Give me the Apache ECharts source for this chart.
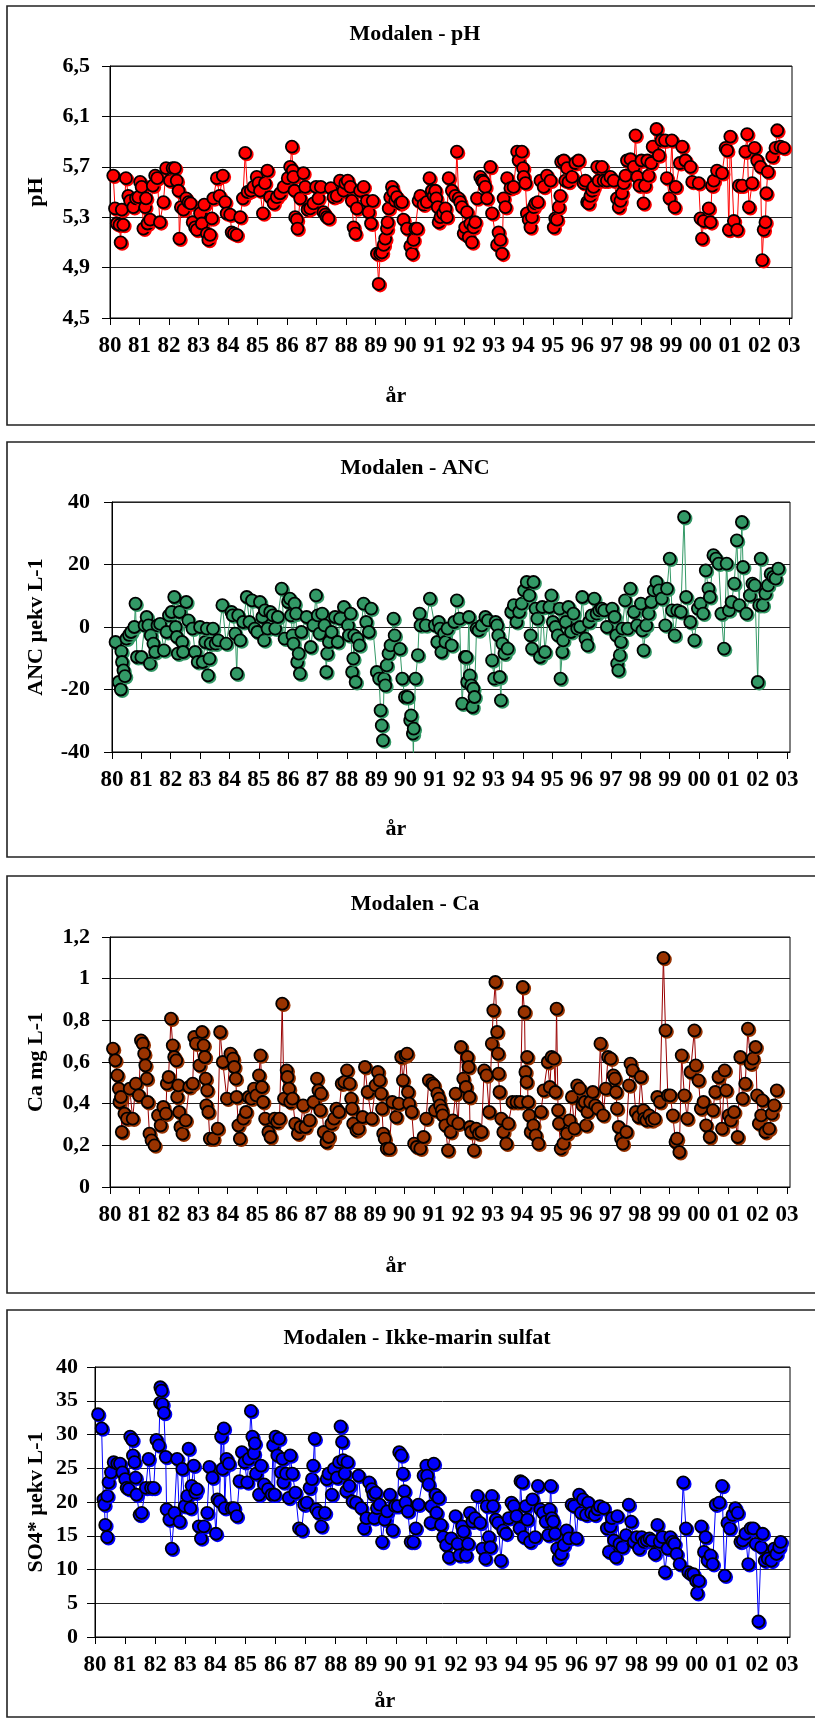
<!DOCTYPE html>
<html><head><meta charset="utf-8">
<script src="https://cdn.jsdelivr.net/npm/echarts@6/dist/echarts.min.js"></script>
<style>html,body{margin:0;padding:0;background:#fff}#c{width:815px;height:1720px}</style>
</head><body><div id="c"></div>
<script>
const yearTicks = [1980,1981,1982,1983,1984,1985,1986,1987,1988,1989,1990,1991,1992,1993,1994,1995,1996,1997,1998,1999,2000,2001,2002,2003];
const yearLabels = ['80','81','82','83','84','85','86','87','88','89','90','91','92','93','94','95','96','97','98','99','00','01','02','03'];
const titles = ['Modalen - pH','Modalen - ANC','Modalen - Ca','Modalen - Ikke-marin sulfat'];
const yNames = ['pH','ANC µekv L-1','Ca mg L-1','SO4* µekv L-1'];
const xName = 'år';

const phSamples = [
[1980.11,5.63],[1980.17,5.37],[1980.23,5.25],[1980.32,5.24],[1980.36,5.10],[1980.40,5.36],[1980.45,5.24],[1980.54,5.61],[1980.62,5.47],[1980.68,5.43],[1980.79,5.38],[1980.88,5.45],[1980.96,5.46],
[1981.02,5.58],[1981.07,5.54],[1981.13,5.21],[1981.19,5.38],[1981.22,5.45],[1981.27,5.25],[1981.36,5.28],[1981.45,5.55],[1981.53,5.63],[1981.60,5.61],[1981.69,5.26],[1981.81,5.42],[1981.90,5.69],
[1982.03,5.59],[1982.12,5.69],[1982.20,5.69],[1982.26,5.59],[1982.32,5.51],[1982.35,5.13],[1982.40,5.38],[1982.49,5.36],[1982.58,5.45],[1982.66,5.42],[1982.73,5.41],[1982.80,5.26],[1982.88,5.22],[1982.94,5.20],
[1983.05,5.33],[1983.11,5.25],[1983.19,5.40],[1983.28,5.17],[1983.33,5.12],[1983.39,5.16],[1983.45,5.29],[1983.50,5.45],[1983.62,5.61],[1983.71,5.47],[1983.82,5.63],[1983.90,5.42],[1983.95,5.33],
[1984.07,5.32],[1984.12,5.18],[1984.20,5.17],[1984.29,5.16],[1984.41,5.30],[1984.50,5.45],[1984.58,5.81],[1984.66,5.50],[1984.77,5.51],[1984.86,5.54],[1984.97,5.62],
[1985.03,5.57],[1985.08,5.51],[1985.18,5.33],[1985.25,5.57],[1985.33,5.67],[1985.42,5.46],[1985.54,5.41],[1985.65,5.46],[1985.76,5.49],[1985.88,5.54],
[1986.02,5.61],[1986.10,5.70],[1986.16,5.86],[1986.19,5.67],[1986.21,5.62],[1986.25,5.51],[1986.27,5.30],[1986.33,5.28],[1986.35,5.21],[1986.44,5.45],[1986.55,5.65],[1986.61,5.54],[1986.69,5.36],[1986.78,5.37],[1986.89,5.41],[1986.98,5.54],
[1987.06,5.45],[1987.14,5.54],[1987.23,5.34],[1987.29,5.32],[1987.34,5.30],[1987.40,5.29],[1987.48,5.53],[1987.57,5.46],[1987.68,5.47],[1987.79,5.59],[1987.91,5.51],[1987.97,5.57],
[1988.05,5.59],[1988.14,5.54],[1988.19,5.43],[1988.25,5.22],[1988.31,5.17],[1988.36,5.37],[1988.47,5.51],[1988.59,5.54],[1988.70,5.43],[1988.76,5.34],[1988.84,5.25],[1988.90,5.43],
[1989.04,5.01],[1989.10,4.77],[1989.15,5.01],[1989.21,5.02],[1989.27,5.08],[1989.32,5.13],[1989.38,5.21],[1989.40,5.26],[1989.44,5.37],[1989.49,5.46],[1989.55,5.54],[1989.60,5.50],[1989.66,5.43],[1989.72,5.46],[1989.83,5.41],[1989.89,5.42],[1989.94,5.28],
[1990.06,5.21],[1990.17,5.07],[1990.23,5.01],[1990.28,5.12],[1990.34,5.21],[1990.40,5.21],[1990.45,5.43],[1990.51,5.47],[1990.62,5.40],[1990.73,5.42],[1990.82,5.61],[1990.90,5.51],[1990.96,5.47],
[1991.02,5.51],[1991.05,5.45],[1991.10,5.38],[1991.13,5.26],[1991.19,5.30],[1991.28,5.33],[1991.36,5.37],[1991.41,5.30],[1991.47,5.61],[1991.58,5.51],[1991.69,5.47],[1991.75,5.82],[1991.81,5.45],[1991.86,5.42],[1991.92,5.38],[1991.98,5.17],
[1992.03,5.22],[1992.09,5.34],[1992.15,5.14],[1992.20,5.25],[1992.26,5.10],[1992.31,5.22],[1992.37,5.26],[1992.43,5.45],[1992.54,5.62],[1992.60,5.59],[1992.65,5.58],[1992.71,5.54],[1992.77,5.45],[1992.88,5.70],[1992.94,5.33],
[1993.11,5.08],[1993.16,5.18],[1993.22,5.12],[1993.28,5.01],[1993.33,5.45],[1993.39,5.38],[1993.45,5.61],[1993.56,5.53],[1993.67,5.54],[1993.79,5.82],[1993.84,5.75],[1993.95,5.82],[1993.99,5.69],
[1994.01,5.62],[1994.07,5.57],[1994.12,5.33],[1994.18,5.28],[1994.24,5.22],[1994.29,5.30],[1994.35,5.38],[1994.41,5.41],[1994.49,5.42],[1994.58,5.59],[1994.69,5.54],[1994.80,5.63],[1994.92,5.59],
[1995.03,5.22],[1995.08,5.29],[1995.14,5.28],[1995.20,5.38],[1995.25,5.47],[1995.28,5.74],[1995.37,5.75],[1995.42,5.59],[1995.48,5.69],[1995.53,5.58],[1995.65,5.62],[1995.76,5.73],[1995.87,5.75],
[1996.04,5.57],[1996.10,5.59],[1996.16,5.42],[1996.21,5.41],[1996.27,5.47],[1996.33,5.51],[1996.38,5.54],[1996.50,5.70],[1996.55,5.59],[1996.66,5.70],[1996.72,5.59],[1996.83,5.59],[1996.95,5.62],
[1997.06,5.59],[1997.17,5.45],[1997.23,5.38],[1997.29,5.43],[1997.34,5.49],[1997.40,5.57],[1997.46,5.63],[1997.51,5.75],[1997.63,5.76],[1997.74,5.70],[1997.80,5.95],[1997.86,5.62],[1997.93,5.55],
[1998.00,5.75],[1998.07,5.41],[1998.12,5.55],[1998.20,5.75],[1998.24,5.63],[1998.33,5.73],[1998.38,5.86],[1998.51,6.00],[1998.59,5.79],[1998.68,5.91],[1998.80,5.91],[1998.86,5.61],[1998.95,5.45],
[1999.03,5.91],[1999.12,5.38],[1999.16,5.54],[1999.30,5.73],[1999.38,5.86],[1999.49,5.75],[1999.66,5.70],[1999.72,5.58],[1999.94,5.57],
[2000.00,5.29],[2000.05,5.13],[2000.11,5.27],[2000.28,5.37],[2000.34,5.26],[2000.39,5.55],[2000.45,5.59],[2000.56,5.67],[2000.73,5.65],[2000.85,5.85],[2000.90,5.83],[2000.96,5.20],
[2001.01,5.94],[2001.13,5.27],[2001.24,5.20],[2001.30,5.55],[2001.41,5.55],[2001.52,5.82],[2001.58,5.96],[2001.64,5.38],[2001.75,5.57],[2001.83,5.85],[2001.92,5.75],
[2002.03,5.70],[2002.09,4.96],[2002.14,5.20],[2002.20,5.26],[2002.23,5.49],[2002.28,5.66],[2002.43,5.78],[2002.54,5.85],[2002.60,5.99],[2002.71,5.86],[2002.82,5.85]
];

const ancSamples = [
[1980.12,-4.8],[1980.23,-17.6],[1980.30,-20],[1980.32,-7.8],[1980.34,-11.2],[1980.39,-13.9],[1980.44,-15.7],[1980.49,-3.7],[1980.58,-2.5],[1980.65,-1.6],[1980.76,0],[1980.80,7.5],[1980.85,-9.6],
[1981.00,-9.6],[1981.11,0.5],[1981.18,3.2],[1981.24,0.5],[1981.29,-11.7],[1981.32,-2.7],[1981.41,-5.3],[1981.47,-8],[1981.55,0.5],[1981.64,1],[1981.77,-7.5],[1981.86,-1.6],[1981.94,3.7],
[1982.03,4.8],[1982.12,9.6],[1982.17,0],[1982.21,-3.2],[1982.24,-8.5],[1982.30,4.8],[1982.39,-4.8],[1982.42,-8],[1982.53,8],[1982.60,2.1],[1982.74,-0.5],[1982.83,-8],[1982.92,-11.2],
[1983.00,0],[1983.09,-11.2],[1983.18,-4.8],[1983.23,-0.5],[1983.27,-15.5],[1983.32,-10.1],[1983.36,-5.3],[1983.44,-0.5],[1983.53,-5.3],[1983.62,-4.3],[1983.76,7],[1983.89,-5.3],
[1984.07,4.8],[1984.11,3.7],[1984.20,-2.1],[1984.25,-14.9],[1984.30,3.7],[1984.37,-4.3],[1984.47,1.6],[1984.59,9.6],[1984.68,1.6],[1984.77,8.5],[1984.86,-0.5],[1984.95,-1.6],
[1985.04,8],[1985.12,3.2],[1985.18,-4.3],[1985.21,5.3],[1985.30,-0.5],[1985.39,4.8],[1985.48,3.7],[1985.56,-0.5],[1985.65,3.2],[1985.78,12.3],[1985.88,-3.7],
[1986.00,8],[1986.06,9.1],[1986.10,3.7],[1986.15,-2.7],[1986.18,-5.3],[1986.22,7.5],[1986.27,4.3],[1986.31,-11.2],[1986.36,-8.5],[1986.40,-14.9],[1986.45,-1.6],[1986.63,3.2],[1986.77,-6.4],[1986.86,0.5],[1986.95,10.1],
[1987.01,3.7],[1987.07,-2.1],[1987.16,4.3],[1987.24,0.5],[1987.30,-14.4],[1987.33,-8.5],[1987.39,-4.8],[1987.48,-1.6],[1987.60,3.2],[1987.69,-4.8],[1987.77,2.7],[1987.90,6.4],
[1988.04,0.5],[1988.07,-2.7],[1988.13,4.3],[1988.18,-14.4],[1988.22,-10.1],[1988.25,-2.7],[1988.30,-17.6],[1988.36,-3.7],[1988.43,-5.9],[1988.57,7.5],[1988.66,1.6],[1988.75,-1.6],[1988.83,5.9],
[1989.02,-14.4],[1989.10,-16.5],[1989.15,-26.7],[1989.19,-31.5],[1989.23,-36.3],[1989.27,-16.5],[1989.31,-18.7],[1989.36,-12.3],[1989.42,-8.5],[1989.49,-5.9],[1989.59,2.7],[1989.63,-2.7],[1989.81,-7],[1989.89,-16.5],[1989.98,-22.4],
[1990.07,-22.4],[1990.16,-29.9],[1990.19,-28.3],[1990.25,-34.1],[1990.27,-42],[1990.28,-32.5],[1990.34,-16.5],[1990.42,-9],[1990.48,4.3],[1990.51,0.5],[1990.69,0.5],[1990.83,9.1],
[1991.00,0.5],[1991.08,-4.8],[1991.13,1.6],[1991.18,-0.5],[1991.22,-8],[1991.31,-2.1],[1991.36,-4.8],[1991.43,-0.5],[1991.57,-5.9],[1991.66,1.6],[1991.75,8.5],[1991.84,2.7],[1991.93,-24.5],
[1992.02,-9.6],[1992.07,-9.6],[1992.10,-17.6],[1992.16,3.2],[1992.19,-15.5],[1992.24,-18.7],[1992.28,-25.6],[1992.31,-19.7],[1992.35,-22.4],[1992.42,-0.5],[1992.49,-1.1],[1992.60,0.5],[1992.72,3.2],[1992.81,2.1],[1992.95,-10.7],
[1993.02,-16.5],[1993.07,1.6],[1993.12,0.5],[1993.16,-2.7],[1993.21,-16],[1993.25,-23.5],[1993.30,-5.3],[1993.37,-8.5],[1993.48,-6.9],[1993.60,4.8],[1993.69,7],[1993.78,1.6],[1993.87,4.8],[1993.96,7.5],
[1994.04,11.7],[1994.13,14.4],[1994.22,10.1],[1994.26,-2.7],[1994.31,-6.9],[1994.36,14.4],[1994.43,5.9],[1994.49,2.7],[1994.58,-9.6],[1994.66,6.4],[1994.75,-8],[1994.90,6.4],[1994.97,10.1],
[1995.02,1.6],[1995.11,0],[1995.19,-2.7],[1995.25,5.9],[1995.28,-16.5],[1995.34,-8],[1995.37,-4.3],[1995.46,1.6],[1995.55,6.4],[1995.64,-1.6],[1995.72,4.3],[1995.85,-0.5],[1995.95,0],
[1996.02,9.6],[1996.13,-3.7],[1996.20,-5.9],[1996.25,1.6],[1996.34,3.7],[1996.43,9.1],[1996.51,4.3],[1996.60,5.3],[1996.69,5.9],[1996.77,5.3],[1996.86,0],
[1997.04,5.9],[1997.12,3.2],[1997.18,-2.7],[1997.21,-11.7],[1997.25,-13.9],[1997.30,-9],[1997.34,-4.8],[1997.39,-0.5],[1997.48,8.5],[1997.57,-0.5],[1997.66,12.3],[1997.78,4.8],[1997.89,0.5],
[1998.02,7.5],[1998.07,-1.1],[1998.11,-7.5],[1998.20,0.5],[1998.28,4.3],[1998.37,8],[1998.46,11.7],[1998.55,14.4],[1998.64,11.7],[1998.73,9.1],[1998.85,0.5],[1998.91,12.3],
[1999.00,21.9],[1999.08,5.3],[1999.17,-2.7],[1999.26,5.3],[1999.38,4.8],[1999.49,35.2],[1999.56,9.6],[1999.70,1.6],[1999.84,-4.3],[1999.96,5.9],
[2000.05,7.5],[2000.14,4.3],[2000.23,18.1],[2000.32,12.3],[2000.37,9.6],[2000.49,23],[2000.58,21.9],[2000.67,20.3],[2000.76,4.3],[2000.85,-6.9],[2000.94,20.3],
[2001.02,5.3],[2001.11,8],[2001.20,13.9],[2001.29,27.7],[2001.37,7],[2001.46,33.6],[2001.50,19.2],[2001.61,4.3],[2001.73,10.1],[2001.82,13.9],[2001.90,13.3],
[2002.00,-17.6],[2002.05,7],[2002.10,21.9],[2002.17,7],[2002.26,10.7],[2002.35,13.3],[2002.44,17],[2002.53,16],[2002.61,15.5],[2002.70,18.7]
];

const caSamples = [
[1980.10,.664],[1980.18,.608],[1980.25,.536],[1980.30,.472],[1980.32,.408],[1980.37,.432],[1980.40,.264],[1980.49,.352],[1980.58,.328],[1980.67,.472],[1980.77,.328],[1980.88,.496],[1980.98,.44],
[1981.05,.704],[1981.11,.688],[1981.16,.64],[1981.20,.584],[1981.25,.52],[1981.28,.408],[1981.34,.256],[1981.41,.224],[1981.51,.2],[1981.63,.344],[1981.72,.296],[1981.81,.384],[1981.90,.352],[1981.93,.496],[1981.99,.528],
[1982.07,.808],[1982.13,.68],[1982.18,.624],[1982.25,.608],[1982.28,.432],[1982.32,.488],[1982.35,.36],[1982.39,.288],[1982.46,.256],[1982.57,.32],[1982.69,.48],[1982.81,.496],[1982.86,.72],[1982.92,.688],
[1983.04,.584],[1983.13,.744],[1983.18,.68],[1983.22,.624],[1983.25,.52],[1983.27,.392],[1983.30,.464],[1983.34,.36],[1983.39,.232],[1983.51,.232],[1983.66,.28],[1983.74,.744],[1983.83,.6],[1983.97,.424],
[1984.09,.64],[1984.18,.616],[1984.22,.576],[1984.27,.52],[1984.30,.432],[1984.36,.296],[1984.41,.232],[1984.53,.328],[1984.62,.36],[1984.71,.432],[1984.80,.424],[1984.89,.472],[1984.97,.44],
[1985.06,.536],[1985.11,.632],[1985.16,.48],[1985.20,.408],[1985.27,.328],[1985.38,.264],[1985.45,.24],[1985.59,.328],[1985.68,.312],[1985.76,.328],[1985.85,.88],[1985.91,.424],
[1986.00,.56],[1986.03,.528],[1986.08,.472],[1986.12,.408],[1986.20,.424],[1986.29,.304],[1986.38,.256],[1986.47,.288],[1986.56,.392],[1986.64,.288],[1986.78,.32],[1986.91,.408],
[1987.03,.52],[1987.08,.464],[1987.14,.368],[1987.17,.448],[1987.26,.264],[1987.35,.216],[1987.43,.24],[1987.52,.304],[1987.61,.328],[1987.69,.376],[1987.78,.36],[1987.87,.496],[1987.96,.504],
[1988.05,.56],[1988.14,.496],[1988.19,.424],[1988.22,.376],[1988.26,.304],[1988.37,.272],[1988.44,.28],[1988.58,.336],[1988.66,.576],[1988.75,.456],[1988.89,.328],
[1989.02,.488],[1989.10,.552],[1989.16,.512],[1989.21,.448],[1989.24,.376],[1989.28,.256],[1989.33,.232],[1989.40,.184],[1989.49,.184],[1989.59,.408],[1989.72,.336],[1989.81,.4],[1989.89,.624],[1989.95,.512],
[1990.04,.632],[1990.09,.64],[1990.12,.456],[1990.16,.4],[1990.25,.36],[1990.33,.208],[1990.42,.192],[1990.54,.184],[1990.65,.24],[1990.74,.328],[1990.83,.512],[1990.95,.496],
[1991.00,.488],[1991.04,.368],[1991.12,.448],[1991.18,.424],[1991.21,.392],[1991.27,.368],[1991.30,.344],[1991.39,.296],[1991.48,.176],[1991.57,.264],[1991.65,.32],[1991.74,.448],[1991.83,.304],[1991.92,.672],
[1992.00,.52],[1992.09,.48],[1992.14,.624],[1992.18,.576],[1992.21,.432],[1992.23,.288],[1992.27,.264],[1992.36,.176],[1992.44,.28],[1992.53,.256],[1992.62,.264],[1992.71,.56],[1992.79,.536],[1992.88,.36],[1992.97,.688],
[1993.02,.848],[1993.09,.984],[1993.15,.744],[1993.18,.64],[1993.20,.544],[1993.23,.456],[1993.29,.328],[1993.36,.264],[1993.46,.208],[1993.53,.304],[1993.67,.408],[1993.81,.408],[1993.94,.408],
[1994.02,.96],[1994.08,.84],[1994.11,.552],[1994.15,.504],[1994.17,.624],[1994.20,.408],[1994.24,.344],[1994.29,.264],[1994.38,.296],[1994.46,.248],[1994.55,.208],[1994.64,.36],[1994.73,.464],[1994.87,.6],[1994.94,.48],
[1995.00,.624],[1995.08,.616],[1995.13,.456],[1995.17,.856],[1995.22,.368],[1995.25,.304],[1995.31,.184],[1995.40,.208],[1995.52,.256],[1995.61,.32],[1995.69,.432],[1995.78,.28],[1995.87,.488],[1995.96,.472],
[1996.05,.392],[1996.13,.408],[1996.17,.296],[1996.22,.36],[1996.31,.408],[1996.40,.456],[1996.48,.392],[1996.57,.376],[1996.66,.688],[1996.75,.344],[1996.84,.472],[1996.92,.624],
[1997.01,.616],[1997.10,.536],[1997.15,.52],[1997.19,.456],[1997.22,.376],[1997.28,.288],[1997.36,.232],[1997.42,.208],[1997.54,.264],[1997.63,.488],[1997.68,.592],[1997.75,.56],[1997.86,.36],[1997.95,.336],
[1998.03,.528],[1998.12,.368],[1998.15,.328],[1998.22,.32],[1998.32,.344],[1998.40,.32],[1998.50,.328],[1998.59,.432],[1998.68,.408],[1998.80,1.1],[1998.87,.752],[1998.95,.44],
[1999.03,.44],[1999.12,.344],[1999.21,.216],[1999.26,.232],[1999.34,.168],[1999.42,.632],[1999.51,.44],[1999.61,.328],[1999.72,.552],[1999.85,.752],[1999.90,.584],[1999.99,.512],
[2000.07,.376],[2000.16,.408],[2000.25,.296],[2000.37,.24],[2000.48,.368],[2000.56,.456],[2000.67,.528],[2000.79,.28],[2000.88,.56],[2000.93,.464],
[2001.02,.344],[2001.09,.32],[2001.20,.36],[2001.32,.24],[2001.41,.624],[2001.49,.424],[2001.58,.496],[2001.67,.76],[2001.76,.592],[2001.84,.616],[2001.93,.672],[2001.98,.44],
[2002.04,.304],[2002.12,.344],[2002.16,.416],[2002.26,.264],[2002.39,.28],[2002.48,.352],[2002.56,.392],[2002.65,.464]
];

const so4Samples = [
[1980.10,33],[1980.22,30.9],[1980.28,20.4],[1980.31,19.6],[1980.34,16.6],[1980.40,14.8],[1980.41,20.9],[1980.45,22.9],[1980.53,24.4],[1980.62,25.9],[1980.74,25.7],[1980.83,25.7],[1980.91,24.4],
[1981.00,23.4],[1981.05,22.1],[1981.12,21.9],[1981.17,29.7],[1981.24,29.2],[1981.26,26.9],[1981.31,25.9],[1981.35,23.6],[1981.38,21.1],[1981.48,18.1],[1981.55,18.4],[1981.69,22.1],[1981.78,26.4],[1981.86,22.1],[1981.95,22.1],
[1982.04,29.2],[1982.12,28.4],[1982.16,34.7],[1982.17,37],[1982.21,36.5],[1982.24,34.5],[1982.29,33.2],[1982.35,26.7],[1982.38,18.9],[1982.47,17.4],[1982.55,13.1],[1982.64,18.4],[1982.73,26.4],[1982.81,17.1],[1982.90,24.9],[1982.98,19.4],
[1983.07,20.9],[1983.11,27.9],[1983.17,19.1],[1983.21,22.4],[1983.28,25.4],[1983.33,21.4],[1983.38,21.9],[1983.45,16.4],[1983.52,14.6],[1983.62,16.4],[1983.73,18.4],[1983.80,25.2],[1983.90,23.6],
[1984.02,15.3],[1984.07,20.4],[1984.14,20.1],[1984.19,29.7],[1984.24,24.9],[1984.28,30.9],[1984.31,19.1],[1984.37,26.4],[1984.45,25.7],[1984.54,19.1],[1984.62,19.1],[1984.71,17.9],[1984.80,23.1],[1984.88,27.4],[1984.97,25.9],
[1985.06,22.9],[1985.11,26.4],[1985.18,33.5],[1985.23,29.7],[1985.28,27.2],[1985.31,28.7],[1985.35,24.2],[1985.45,21.1],[1985.52,25.4],[1985.62,22.6],[1985.75,21.9],[1985.87,21.1],[1985.92,28.4],[1985.97,21.1],
[1986.00,29.7],[1986.06,26.9],[1986.12,29.4],[1986.18,24.4],[1986.23,26.4],[1986.26,22.9],[1986.35,24.2],[1986.44,20.6],[1986.49,26.9],[1986.56,24.2],[1986.66,21.4],[1986.78,16.1],[1986.87,15.8],[1986.95,19.6],
[1987.04,19.9],[1987.13,22.1],[1987.21,23.4],[1987.25,25.4],[1987.30,29.4],[1987.35,18.9],[1987.42,18.4],[1987.52,16.4],[1987.64,18.4],[1987.70,23.4],[1987.76,24.2],[1987.87,21.1],[1987.94,24.9],
[1988.04,23.6],[1988.11,25.9],[1988.16,31.2],[1988.21,28.9],[1988.25,26.2],[1988.30,24.2],[1988.35,21.6],[1988.39,25.9],[1988.45,22.4],[1988.56,20.1],[1988.68,19.9],[1988.76,23.9],[1988.85,19.1],[1988.94,16.1],
[1989.02,17.6],[1989.11,22.9],[1989.20,21.9],[1989.25,21.1],[1989.28,17.6],[1989.33,21.4],[1989.37,19.1],[1989.46,19.6],[1989.54,14.1],[1989.63,17.4],[1989.71,18.6],[1989.80,21.1],[1989.89,15.8],[1989.97,19.4],
[1990.06,19.4],[1990.11,27.4],[1990.18,26.9],[1990.23,24.2],[1990.28,21.6],[1990.32,19.9],[1990.40,18.6],[1990.49,14.1],[1990.58,14.1],[1990.66,16.1],[1990.75,19.6],[1990.92,23.9],
[1991.01,25.4],[1991.04,23.9],[1991.09,22.6],[1991.15,16.9],[1991.18,19.4],[1991.26,25.7],[1991.32,21.1],[1991.35,18.4],[1991.42,20.6],[1991.50,16.6],[1991.57,14.8],[1991.67,13.6],[1991.76,11.8],[1991.84,14.6],[1991.98,17.9],
[1992.05,13.8],[1992.11,12.1],[1992.20,16.4],[1992.25,15.6],[1992.33,12.1],[1992.40,13.8],[1992.46,18.4],[1992.54,17.1],[1992.63,17.6],[1992.71,20.9],[1992.80,16.9],[1992.88,13.1],[1992.97,11.6],
[1993.02,19.4],[1993.09,14.8],[1993.14,13.3],[1993.19,20.9],[1993.23,19.4],[1993.32,17.4],[1993.40,16.9],[1993.49,11.3],[1993.57,15.8],[1993.66,15.3],[1993.75,17.6],[1993.84,19.9],[1993.92,19.4],
[1994.01,17.9],[1994.11,16.1],[1994.14,23.1],[1994.20,22.9],[1994.25,14.8],[1994.32,19.4],[1994.37,17.4],[1994.46,14.1],[1994.54,20.4],[1994.63,14.8],[1994.72,22.4],[1994.80,18.9],[1994.89,18.4],[1994.98,17.1],
[1995.06,15.1],[1995.11,18.9],[1995.15,22.4],[1995.18,17.6],[1995.23,17.1],[1995.29,15.3],[1995.36,13.1],[1995.41,11.6],[1995.50,12.3],[1995.58,13.6],[1995.67,15.8],[1995.75,14.6],[1995.84,19.6],[1995.92,19.4],
[1996.00,14.6],[1996.09,21.1],[1996.15,18.4],[1996.22,20.4],[1996.32,18.1],[1996.39,19.9],[1996.49,18.4],[1996.61,18.1],[1996.70,18.9],[1996.78,19.4],[1996.91,19.1],
[1997.01,16.1],[1997.08,12.6],[1997.13,16.4],[1997.18,17.6],[1997.25,14.3],[1997.31,11.8],[1997.36,17.9],[1997.43,13.8],[1997.53,13.3],[1997.65,15.1],[1997.74,19.6],[1997.82,17.1],[1997.91,14.1],
[1998.00,14.8],[1998.08,13.1],[1998.17,14.8],[1998.25,14.1],[1998.34,14.3],[1998.43,14.6],[1998.51,14.3],[1998.60,12.3],[1998.69,16.6],[1998.77,14.1],[1998.86,14.8],[1998.94,9.6],
[1999.03,13.1],[1999.12,14.8],[1999.20,14.1],[1999.26,13.8],[1999.33,12.3],[1999.43,10.8],[1999.55,22.9],[1999.64,16.1],[1999.72,9.6],[1999.81,9.3],[1999.89,9.3],[1999.98,8.3],
[2000.01,6.5],[2000.07,8.3],[2000.15,16.4],[2000.24,12.6],[2000.29,14.8],[2000.36,11.3],[2000.46,12.1],[2000.53,10.8],[2000.63,19.6],[2000.75,19.9],[2000.84,22.4],[2000.93,9.1],
[2001.02,16.9],[2001.10,16.1],[2001.19,18.1],[2001.28,19.1],[2001.36,18.4],[2001.45,14.1],[2001.53,14.3],[2001.62,15.3],[2001.71,10.8],[2001.79,16.1],[2001.88,16.1],[2001.96,13.8],
[2002.05,2.3],[2002.14,13.3],[2002.19,15.3],[2002.26,11.3],[2002.36,11.6],[2002.48,11.3],[2002.57,13.1],[2002.65,12.3],[2002.74,13.3],[2002.79,14.1]
];

const FONT = "'Liberation Serif','Times New Roman',serif";
const panels = [
  {grid:{left:110,top:66,width:682,height:252}, y:{min:4.5,max:6.5,interval:0.4}, lm:20, box:[7,6,830,419], fill:'#FF0000', line:'#FF0000', data:phSamples},
  {grid:{left:112,top:502,width:678,height:250}, y:{min:-40,max:40,interval:20}, lm:22, box:[7,442,830,415], fill:'#339966', line:'#339966', data:ancSamples},
  {grid:{left:110,top:937,width:680,height:250}, y:{min:0,max:1.2,interval:0.2}, lm:20, box:[7,876,830,417], fill:'#993300', line:'#990000', data:caSamples},
  {grid:{left:95,top:1367,width:695,height:270}, y:{min:0,max:40,interval:5}, lm:17, box:[7,1310,830,407], fill:'#0000FF', line:'#0000FF', data:so4Samples}
];
const titlePos = [[415,34],[415,468],[415,904],[417,1338]];
const xNamePos = [[396,396],[396,829],[396,1266],[385,1701]];

function fmtY(v){
  const r = Math.round(v*1000)/1000;
  return String(r).replace('.',',');
}

const grids=[], xAxes=[], yAxes=[], series=[], graphics=[];
panels.forEach((p,i)=>{
  graphics.push({type:'rect', shape:{x:p.box[0],y:p.box[1],width:p.box[2],height:p.box[3]}, style:{fill:'none',stroke:'#222',lineWidth:1.6}, z:-1});
  graphics.push({type:'text', x:titlePos[i][0], y:titlePos[i][1], style:{text:titles[i], font:"bold 22px "+FONT, fill:'#000', textAlign:'center', textVerticalAlign:'middle'}});
  graphics.push({type:'text', x:xNamePos[i][0], y:xNamePos[i][1], style:{text:xName, font:"bold 22px "+FONT, fill:'#000', textAlign:'center', textVerticalAlign:'middle'}});
  const cy = p.grid.top + p.grid.height/2;
  graphics.push({type:'text', x:36, y:cy, rotation:Math.PI/2, style:{text:yNames[i], font:"bold 22px "+FONT, fill:'#000', textAlign:'center', textVerticalAlign:'middle'}});
  grids.push(Object.assign({show:true, borderColor:'#000', borderWidth:1, backgroundColor:'transparent'}, p.grid));
  xAxes.push({type:'value', gridIndex:i, min:1980, max:2003.1, interval:1,
    axisLine:{show:true,onZero:false,lineStyle:{color:'#000',width:1}},
    axisTick:{show:true,inside:false,length:7,customValues:yearTicks,lineStyle:{color:'#000',width:1}},
    axisLabel:{show:true,customValues:yearTicks,margin:17,fontSize:23,fontWeight:'bold',fontFamily:FONT,color:'#000',
      formatter:v=>{const r=Math.round(v); if(Math.abs(v-r)>1e-6) return ''; const k=yearTicks.indexOf(r); return k<0?'':yearLabels[k];}},
    splitLine:{show:false}});
  yAxes.push({type:'value', gridIndex:i, min:p.y.min, max:p.y.max, interval:p.y.interval,
    axisLine:{show:true,onZero:false,lineStyle:{color:'#000',width:1}},
    axisTick:{show:true,inside:false,length:8,lineStyle:{color:'#000',width:1}},
    axisLabel:{show:true,margin:p.lm,fontSize:22,fontWeight:'bold',fontFamily:FONT,color:'#000',formatter:fmtY},
    splitLine:{show:true,lineStyle:{color:'#222',width:1}}});
  const sorted = p.data.slice().sort((a,b)=>a[0]-b[0]);
  series.push({type:'line', xAxisIndex:i, yAxisIndex:i, data:sorted, symbol:'circle', symbolSize:12, showAllSymbol:true, clip:true,
    animation:false, silent:true,
    lineStyle:{color:p.line,width:1},
    itemStyle:{color:p.fill,borderColor:'#000',borderWidth:1.8,shadowColor:p.fill,shadowBlur:0,shadowOffsetX:1.5,shadowOffsetY:1.5},
    emphasis:{disabled:true}});
});

const chart = echarts.init(document.getElementById('c'), null, {renderer:'canvas'});
chart.setOption({animation:false, backgroundColor:'#fff', grid:grids, xAxis:xAxes, yAxis:yAxes, series:series, graphic:graphics});
</script>
</body></html>
